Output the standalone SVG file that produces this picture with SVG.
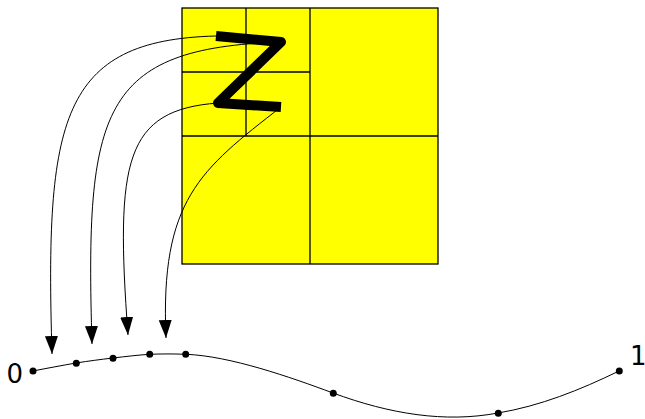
<svg xmlns="http://www.w3.org/2000/svg" width="645" height="419" viewBox="0 0 645 419">
<style>
.grid{fill:none;stroke:#000;stroke-width:1.3}
.conn{fill:none;stroke:#000;stroke-width:1}
.dot{fill:#000}
.lbl{font-family:"DejaVu Sans",sans-serif;font-size:26px;fill:#000}
</style>
<defs>
<marker id="ah" markerUnits="userSpaceOnUse" markerWidth="20" markerHeight="16" viewBox="0 -8 20 16" refX="18" refY="0" orient="auto">
<path d="M0,-6.5 L18,0 L0,6.5 z" fill="#000"/>
</marker>
</defs>
<g id="grid">
<rect x="182" y="8" width="256" height="256" fill="#ffff00" stroke="#000" stroke-width="1.3"/>
<path class="grid" d="M310,8 V264 M182,136 H438 M246,8 V136 M182,72 H310"/>
</g>
<g id="connectors">
<path class="conn" d="M216,36 C60,40 45,120 52,354" marker-end="url(#ah)"/>
<path class="conn" d="M281,42 C100,48 85,110 92,344" marker-end="url(#ah)"/>
<path class="conn" d="M218,103 C125,110 115,160 128,335" marker-end="url(#ah)"/>
<path class="conn" d="M281,107 C200,170 160,200 166,338" marker-end="url(#ah)"/>
</g>
<g id="z">
<path d="M216,36 L281,42 L218,103 L281,107" fill="none" stroke="#000" stroke-width="10" stroke-linejoin="round"/>
</g>
<g id="curve">
<path class="conn" d="M33,371 C48,368 62,365.5 76,363 C89,361 100,359.5 113,358 C126,356.5 138,355 150,354.3 C162,353.8 174,353.8 186,354.3 C230,356 290,377 333,393 C390,414 445,423 498,413 C540,406 580,390 619,371"/>
</g>
<g id="dots">
<circle class="dot" cx="33" cy="371" r="3.5"/>
<circle class="dot" cx="76.3" cy="363.3" r="3.5"/>
<circle class="dot" cx="113" cy="358.3" r="3.5"/>
<circle class="dot" cx="149.7" cy="354.3" r="3.5"/>
<circle class="dot" cx="185.7" cy="354.3" r="3.5"/>
<circle class="dot" cx="333.3" cy="393.3" r="3.5"/>
<circle class="dot" cx="498.3" cy="413.3" r="3.5"/>
<circle class="dot" cx="619.3" cy="371" r="3.5"/>
</g>
<g id="labels">
<text class="lbl" x="6.5" y="383">0</text>
<text class="lbl" x="630" y="365">1</text>
</g>
</svg>
